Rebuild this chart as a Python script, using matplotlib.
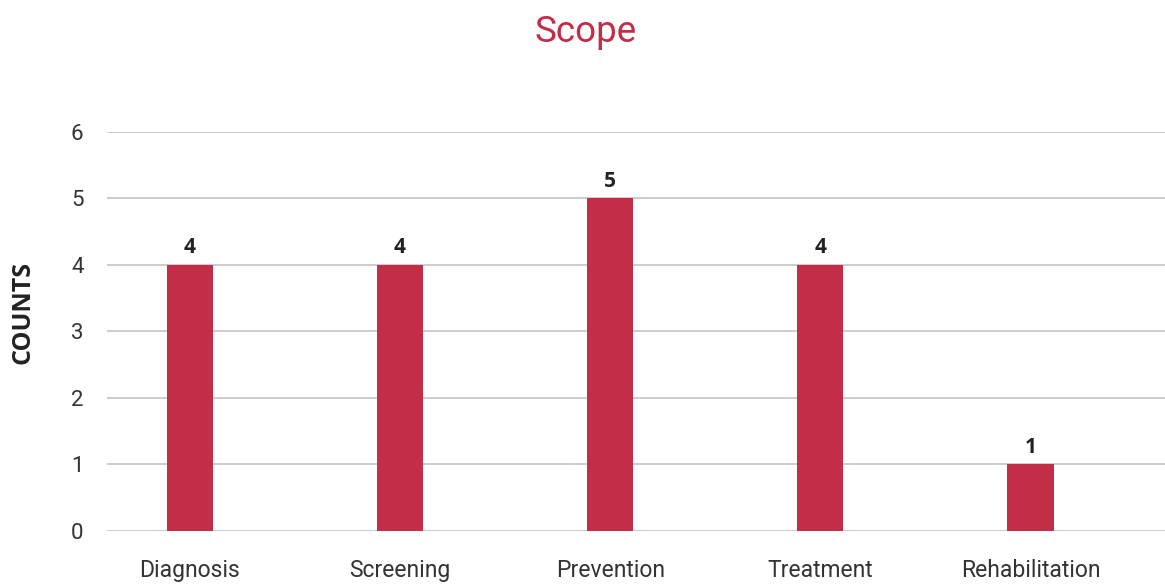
import matplotlib
matplotlib.use("Agg")
import matplotlib.pyplot as plt

categories = ["Diagnosis", "Screening", "Prevention", "Treatment", "Rehabilitation"]
counts = [4, 4, 5, 4, 1]
yticks = [0, 1, 2, 3, 4, 5, 6]

bar_color = "#C32D47"

fig = plt.figure(figsize=(11.65, 5.86), dpi=100)
ax = fig.add_axes([0.0918, 0.0939, 0.9082, 0.6809])

x = list(range(len(categories)))
bars = ax.bar(x, counts, width=0.22, color=bar_color, zorder=3)
for xi, v in zip(x, counts):
    ax.text(xi, v + 0.1, str(v), ha="center", va="bottom", fontsize=15,
            fontweight="bold", color="#222222", family="Open Sans")

ax.set_xlim(-0.395, 4.64)
ax.set_ylim(0, 6)
ax.set_yticks(yticks)
ax.set_yticklabels([str(t) for t in yticks], family="Roboto",
                   fontsize=16, color="#333333")
ax.set_xticks(x)
ax.set_xticklabels(categories, family="Roboto", fontsize=16.5, color="#333333")
ax.tick_params(axis="both", length=0)
ax.tick_params(axis="y", pad=17)
ax.tick_params(axis="x", pad=20)
ax.yaxis.grid(True, color="#c4c4c4", linewidth=1.2, zorder=0)
for s in ax.spines.values():
    s.set_visible(False)

fig.text(0.0195, 0.466, "COUNTS", rotation=90, ha="center", va="center",
         fontsize=18, fontweight="bold", family="Open Sans", color="#222222")
fig.text(0.503, 0.945, "Scope", ha="center", va="center", fontsize=26.5,
         family="Roboto", color=bar_color)

fig.savefig("out.png", dpi=100)
